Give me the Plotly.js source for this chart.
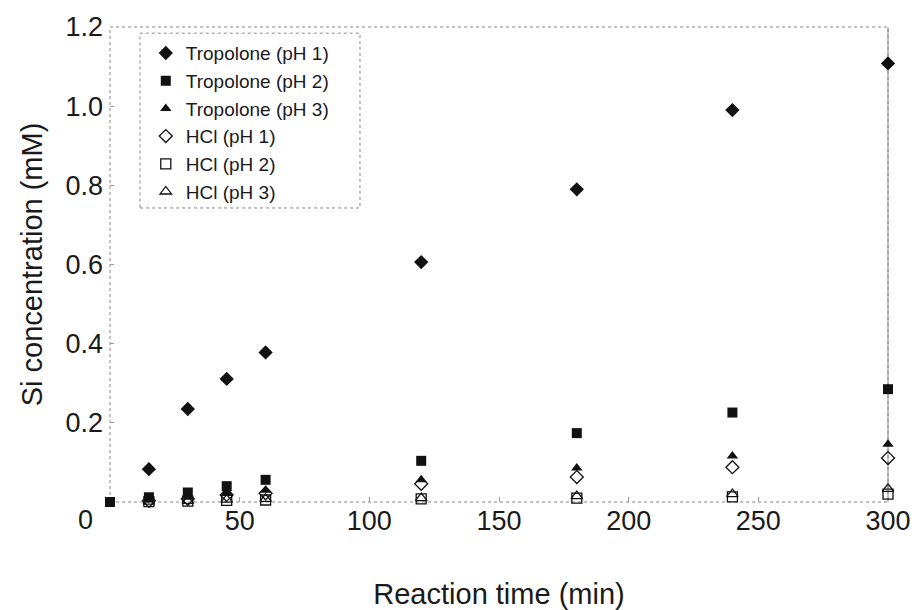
<!DOCTYPE html>
<html>
<head>
<meta charset="utf-8">
<script src="https://cdn.plot.ly/plotly-3.0.1.min.js"></script>
<style>html,body{margin:0;padding:0;background:#fff;}#chart{width:918px;height:610px;}</style>
</head>
<body>
<div id="chart"></div>
<script>
// Reaction times (min)
const times = [0, 15, 30, 45, 60, 120, 180, 240, 300];
// Si concentration (mM); null where no marker is visible
const tropolonePH1 = [null, 0.083, 0.235, 0.311, 0.378, 0.606, 0.790, 0.990, 1.108];
const tropolonePH2 = [0, 0.012, 0.024, 0.040, 0.056, 0.104, 0.174, 0.226, 0.285];
const tropolonePH3 = [null, 0.005, 0.012, 0.024, 0.030, 0.056, 0.086, 0.116, 0.146];
const hclPH1 = [null, 0.003, 0.008, 0.018, 0.022, 0.046, 0.063, 0.088, 0.111];
const hclPH2 = [null, 0.001, 0.002, 0.004, 0.005, 0.008, 0.010, 0.013, 0.020];
const hclPH3 = [null, 0.001, 0.003, 0.006, 0.008, 0.010, 0.015, 0.020, 0.033];
const seriesNames = ["Tropolone (pH 1)", "Tropolone (pH 2)", "Tropolone (pH 3)", "HCl (pH 1)", "HCl (pH 2)", "HCl (pH 3)"];
const xTicks = [50, 100, 150, 200, 250, 300];
const yTicks = [0.2, 0.4, 0.6, 0.8, 1.0, 1.2];
const yTickText = ["0.2", "0.4", "0.6", "0.8", "1.0", "1.2"];

const ink = "#111111";
const textCol = "#1a1a1a";
const series = [tropolonePH1, tropolonePH2, tropolonePH3, hclPH1, hclPH2, hclPH3];
const symbols = ["diamond", "square", "triangle-up", "diamond-open", "square-open", "triangle-up-open"];
const sizes = [11, 10, 10, 10, 10, 10];

const traces = series.map((ys, i) => ({
  type: "scatter",
  mode: "markers",
  name: seriesNames[i],
  x: times,
  y: ys,
  marker: {symbol: symbols[i], size: sizes[i], color: ink, line: {color: ink, width: i >= 3 ? 1.3 : 0}},
  cliponaxis: false
}));

const layout = {
  width: 918, height: 610,
  margin: {l: 110, r: 30, t: 27, b: 108},
  paper_bgcolor: "#ffffff",
  plot_bgcolor: "#ffffff",
  font: {family: "Liberation Sans, Arial, sans-serif", color: textCol},
  showlegend: true,
  legend: {
    x: 0.046, y: 0.985, xanchor: "left", yanchor: "top",
    bgcolor: "rgba(0,0,0,0)", borderwidth: 0,
    font: {size: 19, color: textCol},
    tracegroupgap: 0, itemwidth: 30
  },
  xaxis: {
    range: [0, 300], tickvals: xTicks, ticktext: xTicks.map(String),
    ticks: "inside", ticklen: 5, tickcolor: "#999",
    showgrid: false, zeroline: false, showline: false,
    tickfont: {size: 27, color: textCol},
    title: {text: "Reaction time (min)", font: {size: 29, color: textCol}, standoff: 52}
  },
  yaxis: {
    range: [0, 1.2], tickvals: yTicks, ticktext: yTickText,
    ticks: "inside", ticklen: 4, tickcolor: "#999",
    showgrid: false, zeroline: false, showline: false,
    tickfont: {size: 27, color: textCol},
    ticklabelstandoff: 6,
    title: {text: "Si concentration (mM)", font: {size: 29, color: textCol}, standoff: 14}
  },
  shapes: [
    {type: "rect", xref: "paper", yref: "paper", x0: 0, x1: 1, y0: 0, y1: 1,
     line: {color: "#888", width: 1, dash: "dot"}, layer: "below"},
    {type: "line", xref: "paper", yref: "paper", x0: 1, x1: 1, y0: 0, y1: 1,
     line: {color: "#888", width: 1}, layer: "below"},
    {type: "rect", xref: "paper", yref: "paper", x0: 0.0386, x1: 0.3213, y0: 0.619, y1: 0.987,
     line: {color: "#888", width: 1, dash: "dot"}, layer: "below"}
  ],
  annotations: [
    {text: "0", xref: "paper", yref: "paper", x: -0.032, y: -0.038, showarrow: false,
     xanchor: "center", yanchor: "middle", font: {size: 27, color: textCol}}
  ]
};

Plotly.newPlot("chart", traces, layout, {displayModeBar: false, staticPlot: true});
</script>
</body>
</html>
